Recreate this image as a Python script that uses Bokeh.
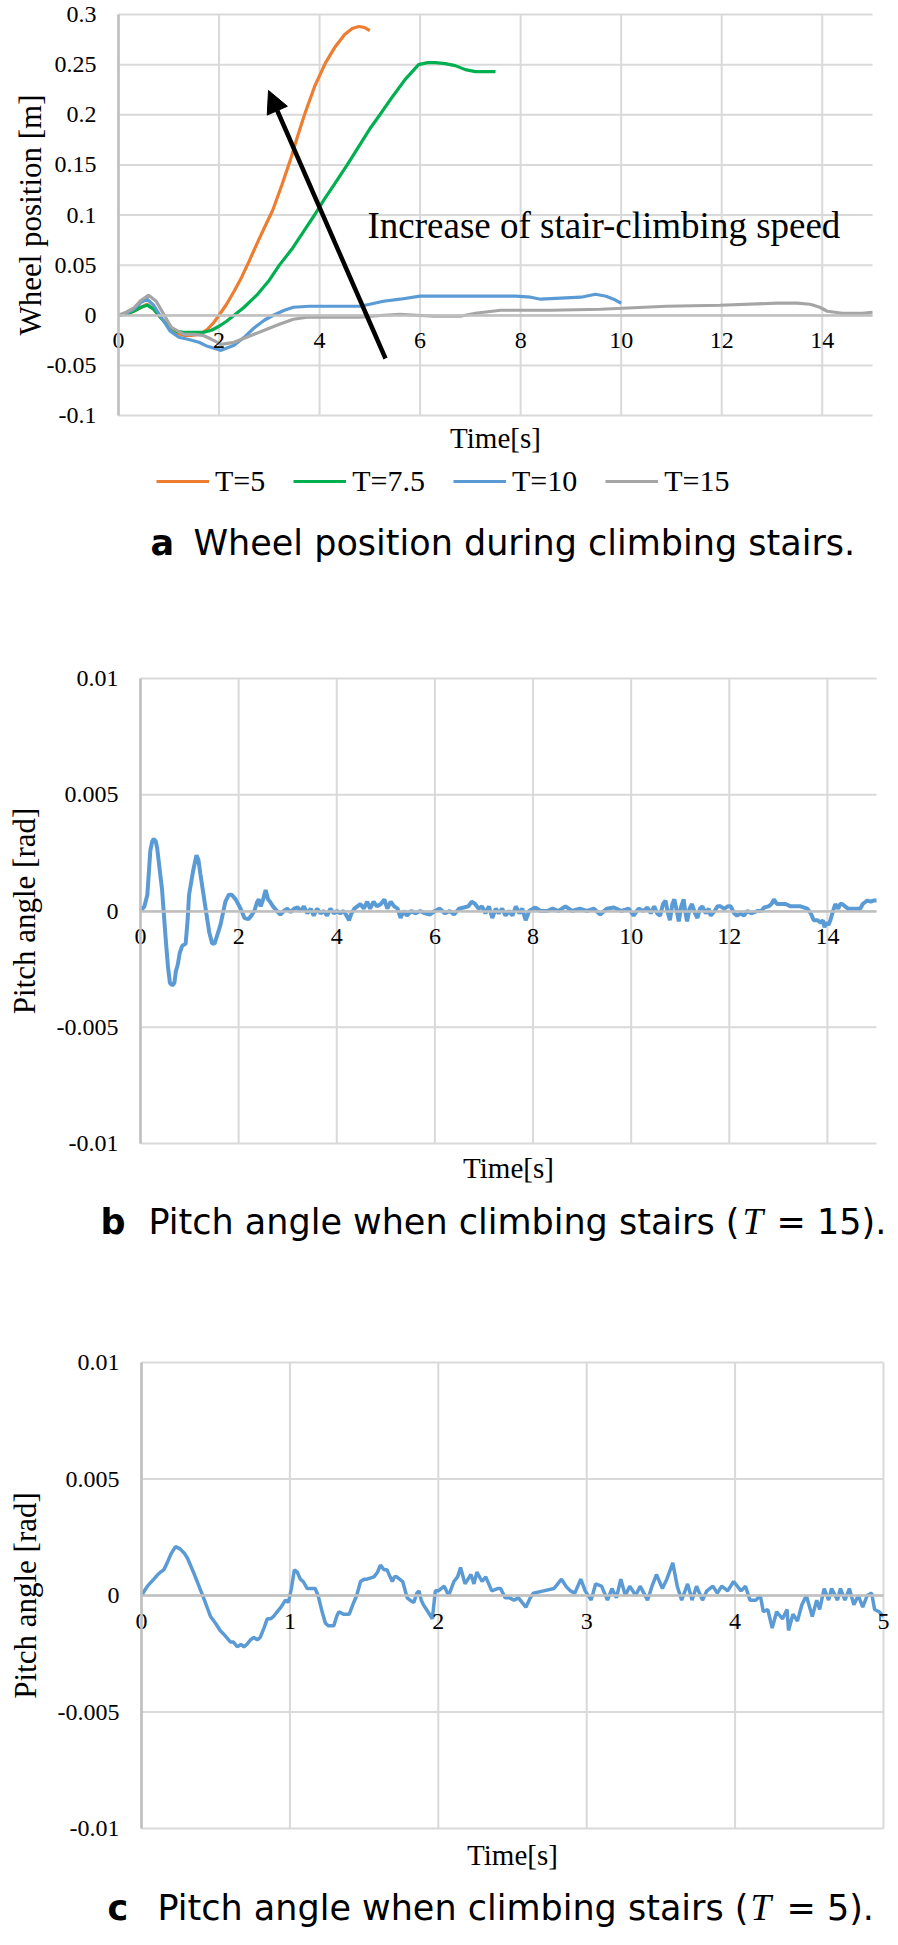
from bokeh.plotting import figure
from bokeh.models import (Range1d, FixedTicker, Label, Legend, LegendItem, Arrow, NormalHead)
from bokeh.layouts import column
from bokeh.embed import file_html
from bokeh.resources import INLINE

SERIF = "Liberation Serif"
SANS = "DejaVu Sans"

# ---------------- data: panel a (wheel position) ----------------
T5_T = [0, 0.15, 0.3, 0.45, 0.57, 0.7, 0.85, 1.0, 1.15, 1.3, 1.45, 1.6, 1.75, 1.9, 2.0, 2.15, 2.3, 2.45,
        2.6, 2.75, 2.9, 3.07, 3.25, 3.42, 3.56, 3.70, 3.9, 4.12, 4.3, 4.5, 4.65, 4.78, 4.9, 5.0]
T5_Y = [0, 0.001, 0.004, 0.008, 0.011, 0.006, -0.003, -0.012, -0.018, -0.020, -0.020, -0.019, -0.015, -0.007,
        0.0, 0.011, 0.024, 0.038, 0.054, 0.071, 0.087, 0.105, 0.13, 0.155, 0.178, 0.2, 0.228, 0.252, 0.267,
        0.28, 0.286, 0.288, 0.287, 0.284]

T75_T = [0, 0.15, 0.3, 0.45, 0.57, 0.7, 0.85, 1.0, 1.15, 1.3, 1.5, 1.7, 1.85, 2.0, 2.15, 2.3, 2.5, 2.75, 3.0,
         3.2, 3.45, 3.7, 3.9, 4.1, 4.3, 4.55, 4.75, 5.0, 5.2, 5.45, 5.7, 5.97, 6.15, 6.3, 6.5, 6.7, 6.9, 7.1,
         7.3, 7.5]
T75_Y = [0, 0.001, 0.004, 0.008, 0.010, 0.006, -0.003, -0.011, -0.016, -0.017, -0.017, -0.017, -0.015, -0.011,
         -0.006, 0.0, 0.008, 0.020, 0.035, 0.05, 0.066, 0.085, 0.1, 0.116, 0.131, 0.15, 0.166, 0.186, 0.2,
         0.218, 0.235, 0.25, 0.252, 0.252, 0.251, 0.249, 0.245, 0.243, 0.243, 0.243]

T10_T = [0, 0.15, 0.3, 0.45, 0.57, 0.7, 0.85, 1.03, 1.2, 1.38, 1.6, 1.77, 1.9, 2.04, 2.3, 2.5, 2.69, 2.9,
         3.08, 3.3, 3.48, 3.8, 4.0, 4.4, 4.8, 5.0, 5.27, 5.6, 6.0, 6.27, 6.8, 7.4, 7.9, 8.2, 8.4, 8.8, 9.2,
         9.49, 9.7, 9.85, 10.0]
T10_Y = [0, 0.002, 0.006, 0.013, 0.016, 0.010, -0.002, -0.016, -0.022, -0.024, -0.027, -0.031, -0.033, -0.035,
         -0.030, -0.022, -0.013, -0.005, 0.0, 0.005, 0.008, 0.009, 0.009, 0.009, 0.009, 0.011, 0.014, 0.016,
         0.019, 0.019, 0.019, 0.019, 0.019, 0.018, 0.016, 0.017, 0.018, 0.021, 0.019, 0.016, 0.012]

T15_T = [0, 0.15, 0.3, 0.45, 0.6, 0.75, 0.9, 1.05, 1.3, 1.5, 1.68, 1.85, 2.04, 2.3, 2.6, 2.95, 3.2, 3.48, 3.75,
         4.02, 4.5, 4.8, 5.27, 5.6, 6.27, 6.8, 7.1, 7.6, 8.6, 9.59, 10.9, 11.97, 13.1, 13.5, 13.76, 13.95, 14.1,
         14.4, 14.8, 15.0]
T15_Y = [0, 0.003, 0.007, 0.015, 0.020, 0.014, 0.001, -0.012, -0.019, -0.019, -0.020, -0.024, -0.029, -0.027,
         -0.021, -0.014, -0.009, -0.004, -0.002, -0.002, -0.002, -0.002, 0.0, 0.001, -0.001, -0.001, 0.002,
         0.005, 0.005, 0.006, 0.009, 0.010, 0.012, 0.012, 0.011, 0.008, 0.004, 0.002, 0.002, 0.003]

SERIES_A = [("T=5", T5_T, T5_Y, "#ED7D31"), ("T=7.5", T75_T, T75_Y, "#00B050"),
            ("T=10", T10_T, T10_Y, "#5B9BD5"), ("T=15", T15_T, T15_Y, "#A5A5A5")]

A_X_TICKS = [0, 2, 4, 6, 8, 10, 12, 14]
A_X_LABELS = ["0", "2", "4", "6", "8", "10", "12", "14"]
A_Y_TICKS = [-0.1, -0.05, 0, 0.05, 0.1, 0.15, 0.2, 0.25, 0.3]
A_Y_LABELS = ["-0.1", "-0.05", "0", "0.05", "0.1", "0.15", "0.2", "0.25", "0.3"]

# ---------------- data: panel b (pitch, T=15) ----------------
TB = [0.00, 0.08, 0.14, 0.20, 0.24, 0.27, 0.31, 0.34, 0.39, 0.44, 0.51, 0.56, 0.60, 0.65, 0.69, 0.72, 0.76,
      0.80, 0.85, 0.92, 0.96, 0.99, 1.07, 1.14, 1.18, 1.22, 1.32, 1.40, 1.46, 1.51, 1.57, 1.63, 1.73, 1.80,
      1.86, 1.94, 2.04, 2.12, 2.20, 2.26, 2.32, 2.38, 2.41, 2.45, 2.50, 2.55, 2.60, 2.64, 2.70, 2.78, 2.85,
      2.92, 2.99, 3.06, 3.13, 3.20, 3.27, 3.33, 3.40, 3.47, 3.53, 3.60, 3.67, 3.74, 3.80, 3.87, 3.94, 4.00,
      4.07, 4.14, 4.20, 4.25, 4.30, 4.36, 4.42, 4.48, 4.55, 4.62, 4.68, 4.75, 4.82, 4.90, 4.97, 5.03, 5.10,
      5.17, 5.24, 5.30, 5.36, 5.43, 5.52, 5.60, 5.70, 5.80, 5.90, 6.00, 6.10, 6.20, 6.30, 6.39, 6.49, 6.59,
      6.68, 6.75, 6.82, 6.89, 6.96, 7.03, 7.10, 7.17, 7.24, 7.30, 7.37, 7.44, 7.51, 7.58, 7.65, 7.72, 7.78,
      7.85, 7.92, 8.00, 8.05, 8.15, 8.29, 8.40, 8.52, 8.66, 8.80, 8.95, 9.10, 9.24, 9.37, 9.50, 9.65, 9.80,
      9.95, 10.05, 10.15, 10.25, 10.33, 10.40, 10.47, 10.53, 10.59, 10.65, 10.70, 10.75, 10.79, 10.84,
      10.88, 10.93, 10.97, 11.02, 11.07, 11.10, 11.14, 11.19, 11.24, 11.30, 11.35, 11.40, 11.45, 11.52,
      11.58, 11.62, 11.70, 11.76, 11.82, 11.90, 11.97, 12.03, 12.10, 12.16, 12.23, 12.30, 12.37, 12.45,
      12.57, 12.65, 12.71, 12.80, 12.86, 12.91, 12.97, 13.04, 13.15, 13.25, 13.32, 13.45, 13.59, 13.66,
      13.72, 13.80, 13.86, 13.91, 13.94, 13.98, 14.02, 14.06, 14.10, 14.16, 14.22, 14.26, 14.30, 14.36,
      14.42, 14.47, 14.55, 14.62, 14.67, 14.72, 14.81, 14.88, 14.94, 15.00]
PB = [0.0, 0.0002, 0.0007, 0.0026, 0.0030, 0.0031, 0.0030, 0.0027, 0.0018, 0.0009, -0.0011, -0.0024, -0.0031,
      -0.0032, -0.0031, -0.0026, -0.0023, -0.0018, -0.0015, -0.0014, -0.0004, 0.0007, 0.0017, 0.0024, 0.0022,
      0.0016, 0.0002, -0.0009, -0.0014, -0.0014, -0.0010, -0.0006, 0.0004, 0.0007, 0.0007, 0.0005, 0.0001,
      -0.0003, -0.00035, -0.0002, 0.0, 0.0004, 0.0005, 0.0002, 0.0005, 0.0009, 0.0005, 0.0004, 0.0002, 0.0,
      -0.00015, 0.0, 0.0001, -0.00005, 0.0001, 0.00015, 0.0, 0.0002, -0.0001, 0.0001, -0.0002, 0.0001,
      -0.0001, 0.0, -0.0002, 0.0001, -0.0001, 0.0, -0.0001, 0.0, -0.0002, -0.0004, -0.0001, 0.0001, 0.0002,
      0.0003, 0.0001, 0.0004, 0.0001, 0.0004, 0.0002, 0.0003, 0.0005, 0.0001, 0.0004, 0.0002, 0.0001, -0.0003,
      0.0, -0.0002, 0.0, -0.0001, 0.0, -0.0001, -0.00015, 0.0, 0.0001, -0.0001, 0.0, -0.00015, 0.0001,
      0.00015, 0.0002, 0.0004, 0.0003, 0.0001, 0.0002, -0.0001, 0.0002, -0.0003, 0.0001, -0.0001, 0.0001,
      -0.0002, 0.0, -0.0002, 0.0002, -0.0001, 0.0001, -0.0004, 0.0, 0.0001, 0.00015, 0.0, 0.0, 0.0001, 0.0,
      0.0002, 0.0, 0.0001, 0.0, 0.0001, -0.00015, 0.0001, 0.00015, 0.0, 0.0001, -0.0002, 0.0001, 0.0,
      0.00015, -0.0001, 0.0002, -0.0001, -0.0002, 0.0003, 0.00045, -0.0001, -0.0004, 0.0003, 0.0005, 0.0,
      -0.00045, 0.0002, 0.0005, 0.0, -0.00045, 0.0001, 0.0003, -0.0001, -0.0003, 0.0001, 0.0002, -0.0001,
      0.0001, -0.0002, 0.0, 0.0002, 0.0002, 0.0001, 0.0002, 0.0002, -0.0001, -0.0002, -0.0001, -0.0002, 0.0,
      -0.0001, 0.0, 0.0, 0.00015, 0.0002, 0.0003, 0.0005, 0.0003, 0.0003, 0.0003, 0.0002, 0.0002, 0.0002,
      0.0001, -0.0001, -0.0004, -0.0004, -0.0005, -0.0004, -0.0007, -0.0005, -0.0006, -0.0004, -0.0001,
      0.0003, 0.0001, 0.0003, 0.0003, 0.0002, 0.0001, 0.0001, 0.0001, 0.0001, 0.0001, 0.0003, 0.00045,
      0.0004, 0.00045, 0.00045]

# ---------------- data: panel c (pitch, T=5) ----------------
TC = [0.000, 0.040, 0.083, 0.110, 0.128, 0.150, 0.173, 0.200, 0.229, 0.260, 0.290, 0.310, 0.350, 0.400,
      0.430, 0.465, 0.500, 0.530, 0.560, 0.600, 0.620, 0.645, 0.670, 0.690, 0.710, 0.735, 0.757, 0.780,
      0.800, 0.825, 0.847, 0.870, 0.890, 0.914, 0.940, 0.970, 0.990, 1.010, 1.030, 1.050, 1.070, 1.090,
      1.116, 1.140, 1.170, 1.190, 1.217, 1.240, 1.260, 1.296, 1.315, 1.330, 1.360, 1.400, 1.430, 1.450,
      1.476, 1.500, 1.520, 1.566, 1.590, 1.610, 1.635, 1.655, 1.675, 1.690, 1.705, 1.720, 1.760, 1.790,
      1.810, 1.835, 1.855, 1.870, 1.885, 1.900, 1.930, 1.960, 1.980, 2.000, 2.040, 2.070, 2.105, 2.130,
      2.150, 2.180, 2.220, 2.240, 2.260, 2.295, 2.320, 2.360, 2.400, 2.420, 2.450, 2.480, 2.510, 2.540,
      2.590, 2.620, 2.640, 2.710, 2.780, 2.830, 2.860, 2.890, 2.920, 2.960, 2.990, 3.030, 3.060, 3.100,
      3.140, 3.170, 3.200, 3.230, 3.260, 3.290, 3.330, 3.360, 3.410, 3.440, 3.470, 3.510, 3.540, 3.580,
      3.610, 3.640, 3.680, 3.710, 3.740, 3.780, 3.810, 3.850, 3.880, 3.910, 3.950, 3.990, 4.040, 4.070,
      4.100, 4.140, 4.170, 4.190, 4.220, 4.250, 4.280, 4.320, 4.350, 4.360, 4.390, 4.420, 4.450, 4.480,
      4.520, 4.550, 4.570, 4.600, 4.630, 4.650, 4.690, 4.710, 4.740, 4.770, 4.800, 4.830, 4.860, 4.890,
      4.920, 4.940, 4.970, 5.000]
PC = [0.0, 0.0004, 0.0007, 0.0009, 0.0010, 0.0011, 0.0014, 0.0018, 0.0021, 0.0020, 0.0018, 0.0016, 0.0010,
      0.0002, -0.0003, -0.0009, -0.0012, -0.0015, -0.0017, -0.0020, -0.0020, -0.0022, -0.0021, -0.0022,
      -0.0021, -0.0019, -0.0018, -0.0019, -0.0018, -0.0014, -0.0010, -0.0010, -0.0009, -0.0007, -0.0005,
      -0.0002, -0.0003, 0.0003, 0.0011, 0.0010, 0.0007, 0.0006, 0.0003, 0.0003, 0.0003, 0.0, -0.0007,
      -0.0012, -0.0013, -0.0013, -0.0009, -0.0007, -0.0008, -0.0008, -0.0003, 0.0, 0.0006, 0.0007, 0.0007,
      0.0008, 0.0010, 0.0013, 0.0011, 0.0011, 0.0008, 0.0006, 0.0008, 0.0008, 0.0006, -0.0001, -0.0002,
      -0.0003, 0.0001, 0.0002, -0.0002, -0.0004, -0.0007, -0.0010, 0.0002, 0.0002, 0.0004, 0.0, 0.0006,
      0.0008, 0.0012, 0.0005, 0.0009, 0.0005, 0.0010, 0.0006, 0.0008, 0.0002, 0.0003, 0.0003, -0.0001,
      -0.0001, -0.0002, -0.0001, -0.0005, -0.0001, 0.0001, 0.0002, 0.0003, 0.0007, 0.0004, 0.0002, 0.0001,
      0.0007, 0.0002, -0.0002, 0.0005, 0.0004, -0.0002, 0.0003, -0.0001, 0.0007, 0.0, 0.0004, 0.0, 0.0004,
      -0.0002, 0.0004, 0.0009, 0.0003, 0.0007, 0.0014, 0.0004, -0.0002, 0.0005, -0.0002, 0.0004, -0.0002,
      0.0002, 0.0004, 0.0001, 0.0004, 0.0002, 0.0006, 0.0002, 0.0004, -0.0002, -0.0002, 0.0, -0.0007,
      -0.0006, -0.0014, -0.0007, -0.0010, -0.0006, -0.0015, -0.0008, -0.0011, -0.0004, 0.0, -0.0009,
      -0.0002, -0.0006, 0.0003, -0.0002, 0.0003, -0.0002, 0.0003, -0.0002, 0.0003, -0.0004, 0.0, -0.0005,
      0.0, 0.0001, -0.0006, -0.0007, -0.0009]

BC_Y_TICKS = [-0.01, -0.005, 0, 0.005, 0.01]
BC_Y_LABELS = ["-0.01", "-0.005", "0", "0.005", "0.01"]
B_X_TICKS = [0, 2, 4, 6, 8, 10, 12, 14]
B_X_LABELS = ["0", "2", "4", "6", "8", "10", "12", "14"]
C_X_TICKS = [0, 1, 2, 3, 4, 5]
C_X_LABELS = ["0", "1", "2", "3", "4", "5"]

GRID = "#d9d9d9"
AXIS = "#bfbfbf"
BLUE = "#5B9BD5"
W = 898          # figure width (page x 0 .. 898)
PAGE_LEFT = 0


class Geo:
    """Maps page pixels to data units for a figure whose frame fills the figure."""

    def __init__(self, top_page, height, pl, pr, pt, pb, xr, yr):
        self.top_page, self.height = top_page, height
        self.pl, self.pr, self.pt, self.pb = pl, pr, pt, pb
        self.xr, self.yr = xr, yr

    def fx(self, px):
        return self.xr[0] + (px - self.pl) / (self.pr - self.pl) * (self.xr[1] - self.xr[0])

    def fy(self, py):
        return self.yr[1] - (py - self.pt) / (self.pb - self.pt) * (self.yr[1] - self.yr[0])

    def ranges(self):
        x0, x1 = self.fx(PAGE_LEFT), self.fx(PAGE_LEFT + W)
        y1, y0 = self.fy(self.top_page), self.fy(self.top_page + self.height)
        return (x0, x1), (y0, y1)


def make_fig(geo, xt, xl, yt, yl, ylabel, ylab_standoff):
    (x0, x1), (y0, y1) = geo.ranges()
    p = figure(width=W, height=geo.height, x_range=Range1d(x0, x1), y_range=Range1d(y0, y1),
               output_backend="svg", toolbar_location=None, title_location=None,
               min_border=0, min_border_left=0, min_border_right=0, min_border_top=0,
               min_border_bottom=0)
    p.outline_line_color = None
    p.background_fill_color = "white"
    p.border_fill_color = "white"
    p.xgrid.visible = False
    p.ygrid.visible = False
    xmin, xmax = geo.xr
    ymin, ymax = geo.yr
    # gridlines (drawn from tick lists, limited to the plot area)
    p.segment(x0=xt, x1=xt, y0=[ymin] * len(xt), y1=[ymax] * len(xt), line_color=GRID, line_width=2)
    p.segment(x0=[xmin] * len(yt), x1=[xmax] * len(yt), y0=yt, y1=yt, line_color=GRID, line_width=2)

    xa = p.xaxis[0]
    xa.ticker = FixedTicker(ticks=xt)
    xa.major_label_overrides = {t: l for t, l in zip(xt, xl)}
    xa.fixed_location = 0
    xa.bounds = (xmin, xmax)
    xa.axis_line_color = AXIS
    xa.axis_line_width = 2.5
    xa.major_tick_line_color = None
    xa.minor_tick_line_color = None
    xa.major_tick_out = 0
    xa.major_tick_in = 0
    xa.minor_tick_out = 0
    xa.major_label_text_font = SERIF
    xa.major_label_text_font_size = "24px"
    xa.major_label_text_color = "black"
    xa.major_label_standoff = 18

    ya = p.yaxis[0]
    ya.ticker = FixedTicker(ticks=yt)
    ya.major_label_overrides = {t: l for t, l in zip(yt, yl)}
    ya.fixed_location = 0
    ya.bounds = (ymin, ymax)
    ya.axis_line_color = AXIS
    ya.axis_line_width = 2.5
    ya.major_tick_line_color = None
    ya.minor_tick_line_color = None
    ya.major_tick_out = 0
    ya.major_tick_in = 0
    ya.minor_tick_out = 0
    ya.major_label_text_font = SERIF
    ya.major_label_text_font_size = "24px"
    ya.major_label_text_color = "black"
    ya.major_label_standoff = 22
    ya.axis_label = ylabel
    ya.axis_label_text_font = SERIF
    ya.axis_label_text_font_style = "normal"
    ya.axis_label_text_font_size = "31px"
    ya.axis_label_text_color = "black"
    ya.axis_label_standoff = ylab_standoff
    return p


def add_text(p, x, y, text, font, size, style="normal", align="left"):
    p.add_layout(Label(x=x, y=y, text=text, text_font=font, text_font_size=size,
                       text_font_style=style, text_align=align, text_baseline="middle",
                       text_color="black"))


# ---------------- figure a ----------------
GA = Geo(0, 638, 118, 872, 14, 415, (0, 15), (-0.1, 0.3))
pa = make_fig(GA, A_X_TICKS, A_X_LABELS, A_Y_TICKS, A_Y_LABELS, "Wheel position [m]", -4)
items = []
for name, tt, yy, col in SERIES_A:
    r = pa.line(tt, yy, line_color=col, line_width=3.2)
    items.append(LegendItem(label=name, renderers=[r]))
# legend: bottom-left offset from the frame's bottom-left corner (frame == whole figure)
leg = Legend(items=items, orientation="horizontal",
             location=(156 - PAGE_LEFT, (GA.top_page + GA.height) - 498),
             background_fill_alpha=0, border_line_color=None, padding=0, margin=0,
             label_text_font=SERIF, label_text_font_size="30px", label_text_color="black",
             glyph_width=53, glyph_height=20, label_standoff=6, spacing=28, label_height=34)
pa.add_layout(leg)
pa.add_layout(Arrow(end=NormalHead(size=22, fill_color="black", line_color="black"),
                    x_start=GA.fx(385), y_start=GA.fy(358), x_end=GA.fx(268), y_end=GA.fy(90),
                    line_color="black", line_width=4.5))
add_text(pa, GA.fx(367), GA.fy(225), "Increase of stair-climbing speed", SERIF, "37px")
add_text(pa, 7.5, GA.fy(437), "Time[s]", SERIF, "29px", align="center")
add_text(pa, GA.fx(150), GA.fy(542), "a", SANS, "35px", style="bold")
add_text(pa, GA.fx(193), GA.fy(542), "Wheel position during climbing stairs.", SANS, "35px")

# ---------------- figure b ----------------
GB = Geo(638, 688, 140, 876, 678, 1143, (0, 15), (-0.01, 0.01))
pb = make_fig(GB, B_X_TICKS, B_X_LABELS, BC_Y_TICKS, BC_Y_LABELS, "Pitch angle [rad]", 12)
pb.line(TB, PB, line_color=BLUE, line_width=4)
add_text(pb, 7.5, GB.fy(1167), "Time[s]", SERIF, "29px", align="center")
add_text(pb, GB.fx(100), GB.fy(1221), "b", SANS, "35px", style="bold")
add_text(pb, GB.fx(148), GB.fy(1221), "Pitch angle when climbing stairs (", SANS, "35px")
add_text(pb, GB.fx(742), GB.fy(1221), "T", SERIF, "37px", style="italic")
add_text(pb, GB.fx(776), GB.fy(1221), "= 15).", SANS, "35px")

# ---------------- figure c ----------------
GC = Geo(1326, 618, 141, 883, 1362, 1828, (0, 5), (-0.01, 0.01))
pc = make_fig(GC, C_X_TICKS, C_X_LABELS, BC_Y_TICKS, BC_Y_LABELS, "Pitch angle [rad]", 12)
pc.line(TC, PC, line_color=BLUE, line_width=3.5)
add_text(pc, 2.5, GC.fy(1854), "Time[s]", SERIF, "29px", align="center")
add_text(pc, GC.fx(107), GC.fy(1907), "c", SANS, "35px", style="bold")
add_text(pc, GC.fx(157), GC.fy(1907), "Pitch angle when climbing stairs (", SANS, "35px")
add_text(pc, GC.fx(750), GC.fy(1907), "T", SERIF, "37px", style="italic")
add_text(pc, GC.fx(786), GC.fy(1907), "= 5).", SANS, "35px")

layout = column(pa, pb, pc, spacing=0)
open("out.html", "w").write(file_html(layout, INLINE))
